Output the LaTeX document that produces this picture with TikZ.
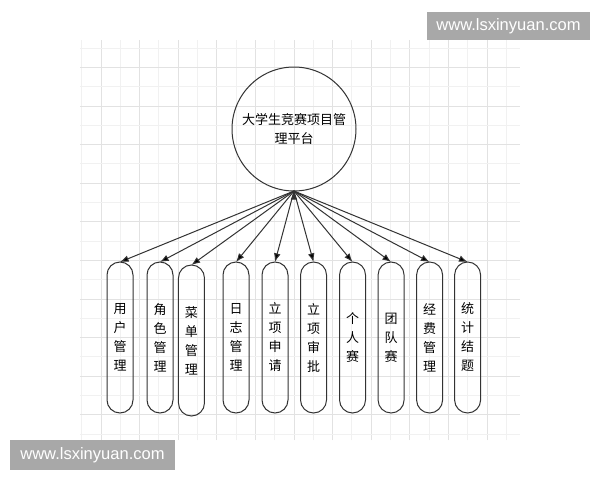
\documentclass[tikz,border=0pt]{standalone}
\usepackage{fontspec}
\setmainfont{Noto Sans CJK SC}
\newfontfamily\wmfont{Liberation Sans}
\usetikzlibrary{positioning}
\usetikzlibrary{arrows.meta}
\definecolor{gridmajor}{HTML}{E2E2E2}
\definecolor{gridminor}{HTML}{F1F1F1}
\definecolor{linegray}{HTML}{333333}
\definecolor{markgray}{HTML}{A8A8A8}

\begin{document}
\begin{tikzpicture}[>={Latex[length=6.5pt,width=5pt]}, x=0.75pt, y=0.75pt]
    \tikzset{module/.style= {draw=linegray, line width=0.75pt, rectangle, rounded corners=9.75pt, align=center, minimum width=19.5pt, minimum height=113.25pt, inner sep=0pt, outer sep=0pt, font=\fontsize{9.75}{14.25}\selectfont},
             platform/.style={draw=linegray, line width=0.75pt, circle, align=center, minimum size=93pt, inner sep=0pt, outer sep=0pt, font=\fontsize{9.75}{14.25}\selectfont},
             wmark/.style={fill=markgray, text=white, inner sep=0pt, font=\wmfont\fontsize{12.4}{14}\selectfont},}

    \useasboundingbox[fill=white] (0,0) rectangle (600,480);

    % grid
    \foreach \i in {0,...,22} {
        \pgfmathsetmacro{\gx}{81.6+19.3*\i}
        \ifodd\i \def\gc{gridmajor}\else \def\gc{gridminor}\fi
        \draw[\gc, line width=0.5pt] (\gx,40) -- (\gx,440);
    }
    \foreach \j in {0,...,20} {
        \pgfmathsetmacro{\gy}{432-19.3*\j}
        \ifodd\j \def\gc{gridmajor}\else \def\gc{gridminor}\fi
        \draw[\gc, line width=0.5pt] (80,\gy) -- (520,\gy);
    }

    \node [platform] (plat) at (294,351) {大学生竞赛项目管\\理平台};

    \node [module] at (120,142.5) (yhgl) {用\\户\\管\\理};
    \node [module, right =10.5pt of yhgl] (jsgl) {角\\色\\管\\理};
    \node [module, right =4.1pt of jsgl, yshift=-2.25pt] (cdgl) {菜\\单\\管\\理};
    \node [module, right =13.9pt of cdgl, yshift=2.25pt] (rzgl) {日\\志\\管\\理};
    \node [module, right =9.75pt of rzgl] (lxsq) {立\\项\\申\\请};
    \node [module, right =9.4pt of lxsq] (lxsp) {立\\项\\审\\批};
    \node [module, right =9.75pt of lxsp] (grs) {个\\人\\赛};
    \node [module, right =9.4pt of grs] (tds) {团\\队\\赛};
    \node [module, right =9.4pt of tds] (jfgl) {经\\费\\管\\理};
    \node [module, right =9pt of jfgl] (tjjt) {统\\计\\结\\题};

    \path[draw=linegray,line width=0.75pt,->]
                (plat.south) edge (yhgl.north)
                (plat.south) edge (jsgl.north)
                (plat.south) edge (cdgl.north)
                (plat.south) edge (rzgl.north)
                (plat.south) edge (lxsq.north)
                (plat.south) edge (lxsp.north)
                (plat.south) edge (grs.north)
                (plat.south) edge (tds.north)
                (plat.south) edge (jfgl.north)
                (plat.south) edge (tjjt.north)
                ;

    % watermarks
    \node [wmark, minimum width=122.25pt, minimum height=21pt] at (508.5,454) (wmtop) {www.lsxinyuan.com};
    \node [wmark, minimum width=123.75pt, minimum height=22.5pt] at (92.5,25) (wmbot) {www.lsxinyuan.com};
\end{tikzpicture}
\end{document}
